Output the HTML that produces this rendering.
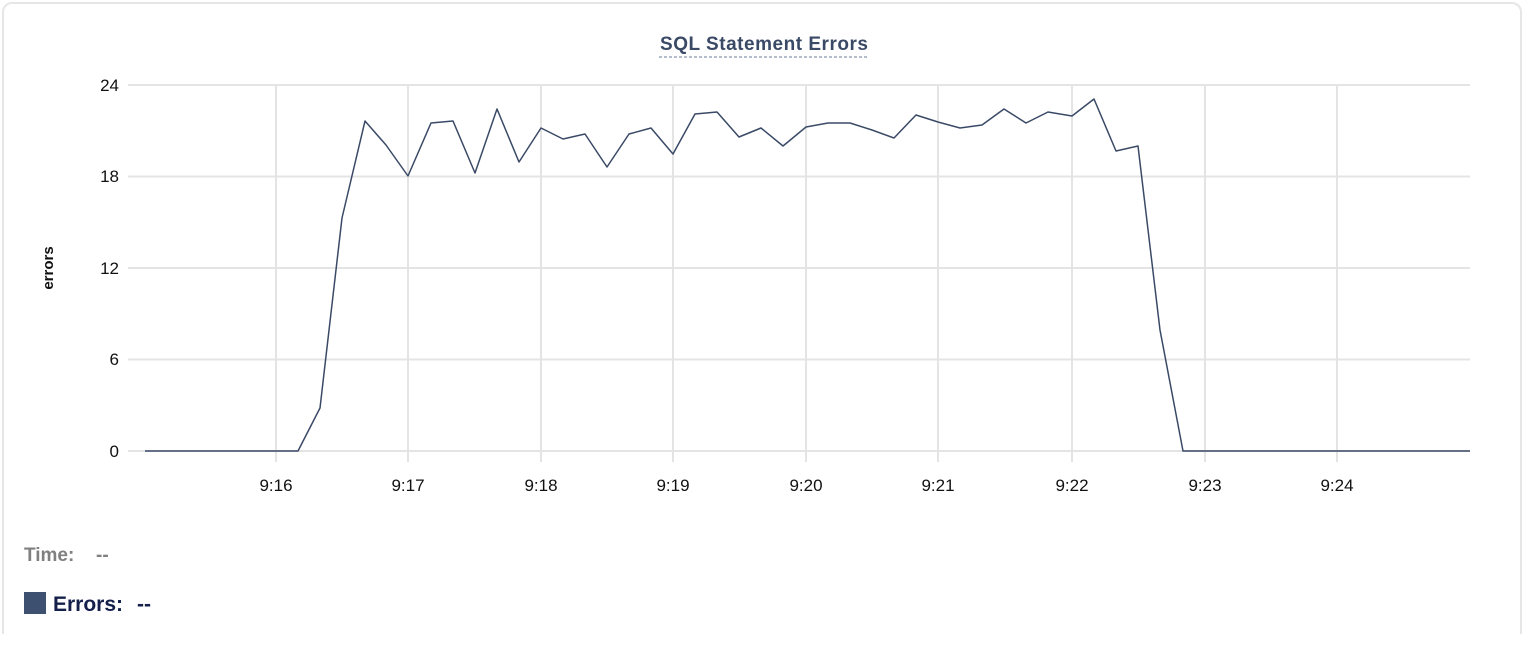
<!DOCTYPE html>
<html><head><style>
html,body{margin:0;background:#fff;width:1528px;height:652px;overflow:hidden;font-family:"Liberation Sans",sans-serif;}
.card{position:absolute;left:2px;top:2px;width:1520px;height:632px;border:2px solid #e6e6e6;border-bottom:none;border-radius:10px 10px 0 0;box-sizing:border-box;}
</style></head><body>
<div class="card"></div>
<svg width="1528" height="640" style="position:absolute;left:0;top:0" font-family="Liberation Sans, sans-serif">
<text x="764" y="50" text-anchor="middle" font-size="19" font-weight="bold" fill="#3a4a66" textLength="208">SQL Statement Errors</text>
<line x1="659" y1="57" x2="869" y2="57" stroke="#6b7a99" stroke-width="1" stroke-dasharray="3,2"/>
<g stroke="#e4e4e4" stroke-width="2">
<line x1="128" y1="85" x2="1470" y2="85"/><line x1="128" y1="176.5" x2="1470" y2="176.5"/>
<line x1="128" y1="268" x2="1470" y2="268"/><line x1="128" y1="359.5" x2="1470" y2="359.5"/>
<line x1="128" y1="451" x2="1470" y2="451"/>
<line x1="276" y1="85" x2="276" y2="462"/><line x1="408" y1="85" x2="408" y2="462"/>
<line x1="541" y1="85" x2="541" y2="462"/><line x1="673" y1="85" x2="673" y2="462"/>
<line x1="806" y1="85" x2="806" y2="462"/><line x1="938" y1="85" x2="938" y2="462"/>
<line x1="1072" y1="85" x2="1072" y2="462"/><line x1="1205" y1="85" x2="1205" y2="462"/>
<line x1="1337" y1="85" x2="1337" y2="462"/>
</g>
<g font-size="17" fill="#111" text-anchor="end">
<text x="119" y="91">24</text><text x="119" y="182">18</text><text x="119" y="274">12</text><text x="119" y="365">6</text><text x="119" y="457">0</text>
</g>
<g font-size="17" fill="#111" text-anchor="middle">
<text x="276" y="491">9:16</text><text x="408" y="491">9:17</text><text x="541" y="491">9:18</text><text x="673" y="491">9:19</text><text x="806" y="491">9:20</text><text x="938" y="491">9:21</text><text x="1072" y="491">9:22</text><text x="1205" y="491">9:23</text><text x="1337" y="491">9:24</text>
</g>
<text transform="translate(53,268) rotate(-90)" text-anchor="middle" font-size="15" font-weight="bold" fill="#111">errors</text>
<polyline fill="none" stroke="#3a4a66" stroke-width="1.5" stroke-linejoin="round" points="145,451 298,451 320,408 342,218 365,121 386,145 408,176 431,123 453,121 475,173 497,109 519,162 541,128 563,139 585,134 607,167 629,134 651,128 673,154 695,114 717,112 739,137 761,128 783,146 806,127 828,123 850,123 872,130 894,138 916,115 938,122 960,128 982,125 1004,109 1026,123 1048,112 1072,116 1094,99 1116,151 1138,146 1160,330 1183,451 1470,451"/>
<text x="24" y="561" font-size="19" font-weight="bold" fill="#808080">Time:</text>
<text x="96" y="561" font-size="19" font-weight="bold" fill="#808080">--</text>
<rect x="24" y="592" width="22" height="22" fill="#3e5070"/>
<text x="53" y="611" font-size="21" font-weight="bold" fill="#14204a">Errors:</text>
<text x="137" y="611" font-size="21" font-weight="bold" fill="#14204a">--</text>
</svg>
</body></html>
